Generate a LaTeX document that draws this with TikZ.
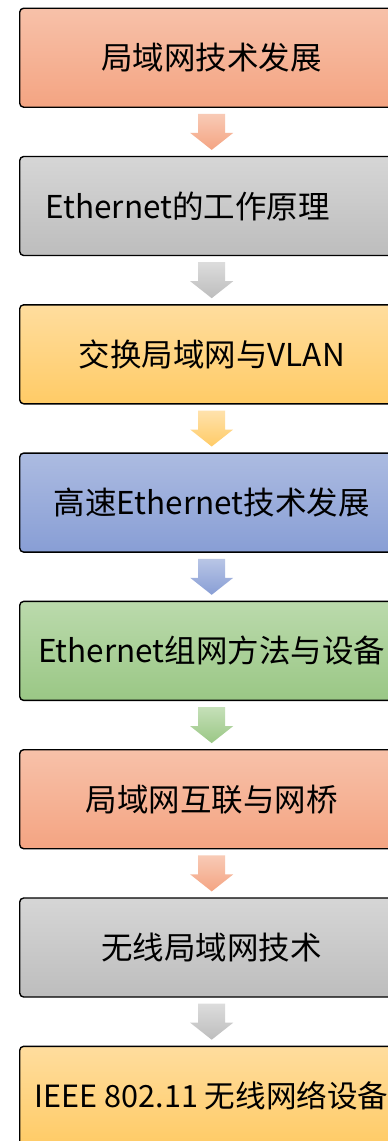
\documentclass[tikz,border=0pt]{standalone}
\usepackage{fontspec}
\setmainfont{Noto Sans CJK SC}
\usetikzlibrary{calc}
\definecolor{oT}{HTML}{F7C1A9}\definecolor{oB}{HTML}{F4A482}
\definecolor{gT}{HTML}{D6D6D6}\definecolor{gB}{HTML}{BDBDBD}
\definecolor{yT}{HTML}{FFDD9E}\definecolor{yB}{HTML}{FFCB66}
\definecolor{bT}{HTML}{ACBBE1}\definecolor{bB}{HTML}{889ED5}
\definecolor{vT}{HTML}{BBDAAC}\definecolor{vB}{HTML}{9AC785}
\begin{document}
\begin{tikzpicture}[x=1pt,y=-1pt,
  box/.style={draw=black, line width=1.4pt, rounded corners=4pt, anchor=north west,
    minimum width=384pt, minimum height=99pt, inner sep=0pt,
    top color=#1T, bottom color=#1B, font=\fontsize{31.5}{33}\selectfont},
  downarrow/.style={top color=#1T!85!white, bottom color=#1B}]
\useasboundingbox (0,0) rectangle (388,1141);
\fill[white] (0,0) rectangle (388,1141);
\node[box=o] (b1) at (19,7.5) {局域网技术发展};
\node[box=g, align=left, text width=332pt, inner xsep=26pt] (b2) at (19,155.8) {Ethernet的工作原理};
\node[box=y] (b3) at (19,304.1) {交换局域网与VLAN};
\node[box=b] (b4) at (19,452.4) {高速Ethernet技术发展};
\node[box=v] (b5) at (19,600.7) {Ethernet组网方法与设备};
\node[box=o] (b6) at (19,749) {局域网互联与网桥};
\node[box=g] (b7) at (19,897.3) {无线局域网技术};
\node[box=y, font=\fontsize{30.6}{33}\selectfont] (b8) at (19,1045.6) {IEEE 802.11 无线网络设备};
\foreach \a/\c in {b1/o,b2/g,b3/y,b4/b,b5/v,b6/o,b7/g} {
  \path[downarrow=\c] ($(\a.south)+(-13.5,6)$) -- ($(\a.south)+(13.5,6)$)
    -- ($(\a.south)+(13.5,25)$) -- ($(\a.south)+(21.5,25)$) -- ($(\a.south)+(0,42)$)
    -- ($(\a.south)+(-21.5,25)$) -- ($(\a.south)+(-13.5,25)$) -- cycle;
}
\end{tikzpicture}
\end{document}
